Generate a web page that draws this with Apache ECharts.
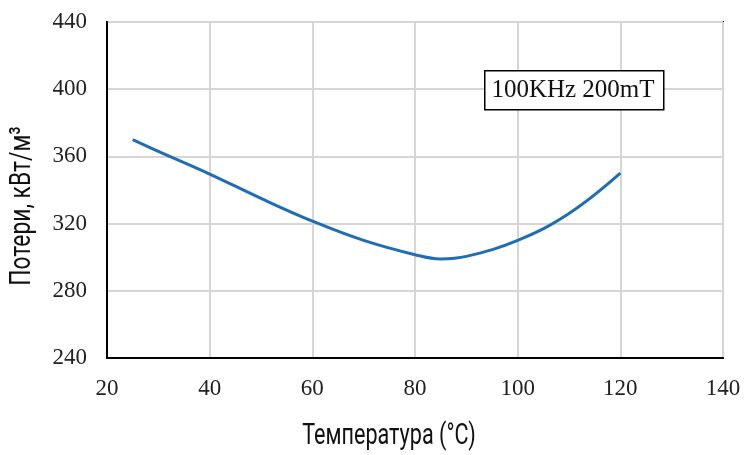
<!DOCTYPE html>
<html>
<head>
<meta charset="utf-8">
<script src="https://cdn.jsdelivr.net/npm/echarts@6/dist/echarts.min.js"></script>
<style>
  html, body { margin: 0; padding: 0; background: #fff; }
  #chart { width: 744px; height: 455px; }
</style>
</head>
<body>
<div id="chart"></div>
<script>
// temperature (°C) and losses (kW/m3)
const temps = [25, 30, 40, 50, 60, 70, 80, 85, 90, 100, 110, 120];
const losses = [370, 363, 349.5, 335, 321.5, 310, 301.5, 299, 300.5, 310, 326, 350];
const xName = 'Температура (°C)';
const yName = 'Потери, кВт/м³';
const boxLabel = '100KHz 200mT';

const serif = '"Liberation Serif", "DejaVu Serif", serif';
const sans = 'Roboto, "Noto Sans", sans-serif';

const chart = echarts.init(document.getElementById('chart'));

chart.setOption({
  animation: false,
  backgroundColor: '#fff',
  grid: {
    left: 107, top: 22, right: 21, bottom: 97,
    show: true, borderColor: '#000', borderWidth: 2
  },
  xAxis: {
    type: 'value', min: 20, max: 140, interval: 20,
    axisLine: { show: true, lineStyle: { color: '#000', width: 2 } },
    axisTick: { show: false },
    axisLabel: { fontFamily: serif, fontSize: 23, color: '#222', margin: 19 },
    splitLine: { lineStyle: { color: '#d6d6d6', width: 2 } }
  },
  yAxis: {
    type: 'value', min: 240, max: 440, interval: 40,
    axisLine: { show: true, lineStyle: { color: '#000', width: 2 } },
    axisTick: { show: false },
    axisLabel: { fontFamily: serif, fontSize: 23, color: '#222', margin: 20 },
    splitLine: { lineStyle: { color: '#d6d6d6', width: 2 } }
  },
  series: [{
    type: 'line',
    data: temps.map((t, i) => [t, losses[i]]),
    smooth: 0.4,
    showSymbol: false,
    lineStyle: { color: '#1f6eb4', width: 3 }
  }],
  graphic: [{
    type: 'rect',
    left: 484, top: 70,
    shape: { width: 179, height: 39 },
    style: { fill: '#fff', stroke: '#000', lineWidth: 1.5 },
    z: 10
  }, {
    type: 'text',
    x: 573, y: 90,
    style: { text: boxLabel, font: '25px ' + serif, fill: '#111', align: 'center', verticalAlign: 'middle' },
    z: 11
  }, {
    // condensed axis titles: squeeze a regular face horizontally
    type: 'text',
    x: 389, y: 436, scaleX: 0.72,
    style: { text: xName, font: '30px ' + sans, fill: '#111', align: 'center', verticalAlign: 'middle' }
  }, {
    type: 'text',
    x: 22, y: 206, rotation: Math.PI / 2, scaleX: 0.76,
    style: { text: yName, font: '30px ' + sans, fill: '#111', align: 'center', verticalAlign: 'middle' }
  }]
});
</script>
</body>
</html>
